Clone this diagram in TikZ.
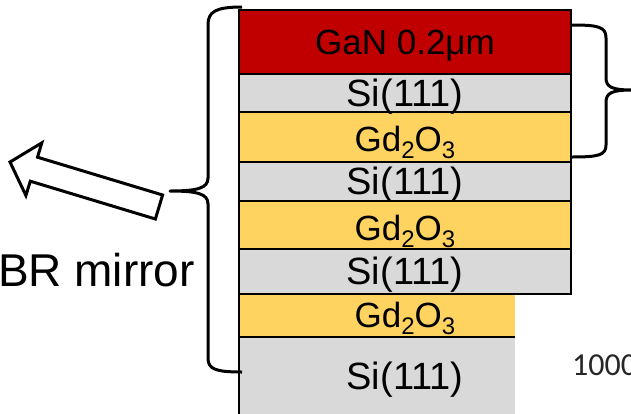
\documentclass[tikz,border=0pt]{standalone}
\usepackage{fontspec}
\setmainfont{Liberation Sans}
\newfontfamily\numfont{Carlito}
\definecolor{ganred}{HTML}{C00000}
\definecolor{sigray}{HTML}{D9D9D9}
\definecolor{gdgold}{HTML}{FFD35F}
\newcommand\lowidx[1]{\raisebox{-0.2em}{\fontsize{24}{24}\selectfont #1}}
\tikzset{
  layerbox/.style={draw=black, line width=1.3pt},
  layertext/.style={font=\fontsize{35}{40}\selectfont, inner sep=0pt, anchor=base},
  sitext/.style={layertext, font=\fontsize{38}{42}\selectfont},
  bracestroke/.style={draw=black, line width=3pt, line join=round},
}
\begin{document}
\begin{tikzpicture}[x=1pt, y=-1pt]
  \useasboundingbox (0,0) rectangle (631,413);

  % upper stack of full-width layers
  \filldraw[layerbox, fill=ganred] (239,10)  rectangle (571,74);
  \filldraw[layerbox, fill=sigray] (239,74)  rectangle (571,112);
  \filldraw[layerbox, fill=gdgold] (239,112) rectangle (571,162);
  \filldraw[layerbox, fill=sigray] (239,162) rectangle (571,201);
  \filldraw[layerbox, fill=gdgold] (239,201) rectangle (571,249);
  \filldraw[layerbox, fill=sigray] (239,249) rectangle (571,294);

  % narrower oxide and substrate at the bottom
  \fill[gdgold] (239,294) rectangle (515,337);
  \fill[sigray] (239,337) rectangle (515,414);
  \draw[layerbox] (239,294) -- (571,294);
  \draw[layerbox] (239,337) -- (515,337);
  \draw[layerbox] (239,294) -- (239,414);

  % layer labels
  \node[layertext] (lgan) at (405,54)    {GaN 0.2μm};
  \node[sitext]    (lsi1) at (405,106)   {Si(111)};
  \node[layertext] (lgd1) at (405,151)   {Gd\lowidx{2}O\lowidx{3}};
  \node[sitext]    (lsi2) at (405,194.5) {Si(111)};
  \node[layertext] (lgd2) at (405,240)   {Gd\lowidx{2}O\lowidx{3}};
  \node[sitext]    (lsi3) at (405,284.5) {Si(111)};
  \node[layertext] (lgd3) at (405,327)   {Gd\lowidx{2}O\lowidx{3}};
  \node[sitext]    (lsi4) at (405,389)   {Si(111)};

  % left brace around the mirror stack
  \draw[bracestroke] (242,7) .. controls (215,7) and (208,12) .. (208,25)
    -- (208,178) .. controls (208,188) and (198,191) .. (170,191)
    .. controls (198,191) and (208,194) .. (208,204)
    -- (208,358) .. controls (208,369) and (215,372) .. (242,372);

  % right brace around the top three layers
  \draw[bracestroke] (572,25) .. controls (599,25) and (606,27) .. (606,38)
    -- (606,78) .. controls (606,87) and (612,90) .. (632,90)
    .. controls (612,90) and (606,93) .. (606,102)
    -- (606,145) .. controls (606,155) and (599,157) .. (572,157);

  % hollow block arrow pointing out of the mirror
  \draw[black, line width=3pt, fill=white, line join=miter]
    (162.6,195.0) -- (37.5,157.2) -- (41.8,142.9) -- (10,162)
    -- (25.9,195.5) -- (30.3,181.2) -- (155.4,219.0) -- cycle;

  \node[font=\fontsize{46}{50}\selectfont, inner sep=0pt, anchor=base east]
    (mirror) at (195,286) {BR mirror};

  \node[font=\numfont\fontsize{32}{36}\selectfont, text=black!85, inner sep=0pt,
    anchor=base west] (scale) at (572,375) {1000};
\end{tikzpicture}
\end{document}
